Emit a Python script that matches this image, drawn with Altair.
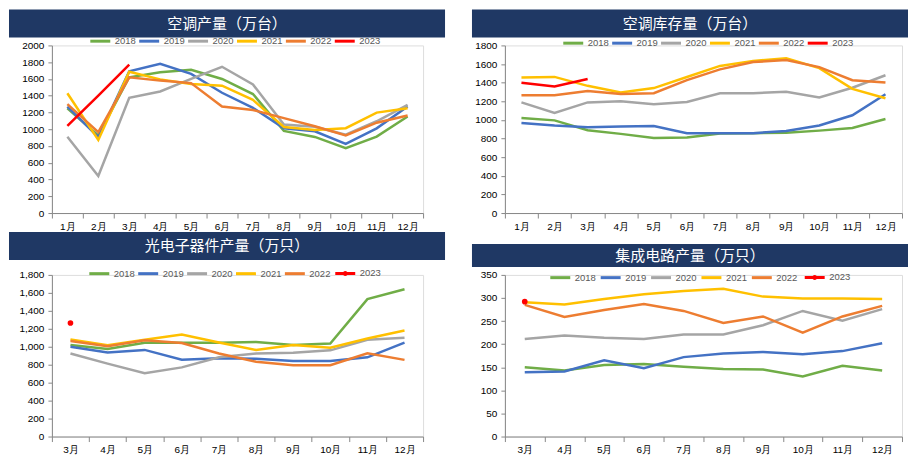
import altair as alt
import pandas as pd

# ---------------- data ----------------
years = ["2018", "2019", "2020", "2021", "2022", "2023"]
colors = ["#70AD47", "#4472C4", "#A5A5A5", "#FFC000", "#ED7D31", "#FF0000"]

months12 = ["1月", "2月", "3月", "4月", "5月", "6月", "7月", "8月", "9月", "10月", "11月", "12月"]
months10 = ["3月", "4月", "5月", "6月", "7月", "8月", "9月", "10月", "11月", "12月"]

# 空调产量（万台）
ac_prod_2018 = [1250, 925, 1620, 1680, 1710, 1600, 1420, 980, 908, 773, 912, 1152]
ac_prod_2019 = [1270, 905, 1690, 1780, 1660, 1435, 1255, 1010, 975, 824, 1010, 1270]
ac_prod_2020 = [910, 442, 1375, 1450, 1600, 1745, 1535, 1055, 1030, 935, 1095, 1290]
ac_prod_2021 = [1430, 872, 1685, 1595, 1540, 1520, 1350, 1027, 990, 1012, 1198, 1250]
ac_prod_2022 = [1300, 966, 1620, 1580, 1550, 1270, 1230, 1132, 1035, 925, 1078, 1163]
ac_prod_2023 = [1040, 1402, 1772]

# 空调库存量（万台）
ac_inv_2018 = [1020, 995, 890, 850, 805, 810, 855, 857, 862, 885, 914, 1010]
ac_inv_2019 = [968, 940, 920, 928, 935, 858, 858, 858, 880, 940, 1050, 1276]
ac_inv_2020 = [1188, 1075, 1188, 1200, 1168, 1192, 1287, 1287, 1302, 1240, 1345, 1480]
ac_inv_2021 = [1455, 1462, 1366, 1295, 1342, 1461, 1580, 1634, 1662, 1556, 1333, 1232]
ac_inv_2022 = [1264, 1264, 1310, 1279, 1286, 1428, 1543, 1621, 1642, 1567, 1427, 1402]
ac_inv_2023 = [1400, 1360, 1440]

# 光电子器件产量（万只）
opto_2018 = [1020, 975, 1045, 1045, 1045, 1052, 1020, 1035, 1530, 1640]
opto_2019 = [1000, 935, 965, 855, 872, 865, 840, 840, 882, 1045]
opto_2020 = [925, 812, 705, 770, 882, 925, 932, 960, 1077, 1101]
opto_2021 = [1082, 1017, 1077, 1135, 1048, 964, 1020, 988, 1091, 1180]
opto_2022 = [1065, 1006, 1073, 1041, 925, 833, 794, 794, 928, 854]
opto_2023 = [1265]

# 集成电路产量（万只）
ic_2018 = [150, 143, 155, 157, 151, 146, 145, 130, 153, 143]
ic_2019 = [139, 141, 165, 148, 172, 180, 183, 178, 185, 202]
ic_2020 = [211, 219, 214, 211, 221, 221, 241, 272, 251, 276]
ic_2021 = [291, 286, 298, 308, 315, 320, 303, 299, 299, 298]
ic_2022 = [285, 259, 274, 287, 272, 246, 260, 225, 260, 283]
ic_2023 = [292]

titles = ["空调产量（万台）", "空调库存量（万台）", "光电子器件产量（万只）", "集成电路产量（万只）"]

NAVY = "#1F3864"
AXIS_GRAY = "#595959"
FONT = "Liberation Sans, Noto Sans CJK SC, sans-serif"
CJK = "Noto Sans CJK SC, sans-serif"
LINE_DOT = "M-1,0H1M0.1,0A0.1,0.1,0,1,1,-0.1,0A0.1,0.1,0,1,1,0.1,0"


def long_df(months, series):
    rows = []
    for yr, vals in zip(years, series):
        for m, v in zip(months, vals):
            rows.append({"month": m, "year": yr, "value": v})
    return pd.DataFrame(rows)


def panel(months, series, title, ymax, ystep, yfmt, w, h, rect, leg, colpad, pitch, dot2023):
    df = long_df(months, series)
    rx0, rx1, ry0, ry1 = rect
    tdf = pd.DataFrame({"t": [title]})
    bar = alt.Chart(tdf).mark_rect(color=NAVY).encode(
        x=alt.value(rx0), x2=alt.value(rx1), y=alt.value(ry0), y2=alt.value(ry1)
    )
    txt = alt.Chart(tdf).mark_text(color="white", fontSize=15, font=CJK).encode(
        x=alt.value((rx0 + rx1) / 2), y=alt.value((ry0 + ry1) / 2 + 0.5), text="t:N"
    )

    common_leg = dict(
        title=None, orient="none", legendY=leg[1],
        direction="horizontal", symbolSize=400,
        symbolStrokeWidth=3, labelFontSize=9.5, labelColor=AXIS_GRAY,
        labelFont=FONT, labelOffset=3, columnPadding=colpad, padding=0,
    )
    line_years = years[:5] if dot2023 else years
    line_colors = colors[:5] if dot2023 else colors
    ldf = df[df["year"].isin(line_years)]

    color = alt.Color(
        "year:N",
        scale=alt.Scale(domain=line_years, range=line_colors),
        legend=alt.Legend(legendX=leg[0], symbolType="stroke", **common_leg),
    )
    x = alt.X(
        "month:N", sort=months, bandPosition=0.5,
        scale=alt.Scale(type="band", domain=months, paddingInner=0, paddingOuter=0),
        axis=alt.Axis(title=None, labelAngle=0, tickBand="extent", tickSize=5,
                      labelPadding=3, grid=False),
    )
    y = alt.Y(
        "value:Q",
        scale=alt.Scale(domain=[0, ymax], nice=False, zero=True),
        axis=alt.Axis(title=None, values=list(range(0, ymax + 1, ystep)), format=yfmt,
                      tickSize=4, labelPadding=4, grid=False, labelOverlap=False),
    )
    lines = alt.Chart(ldf).mark_line(strokeWidth=2.5).encode(x=x, y=y, color=color)
    layers = [bar, txt, lines]
    if dot2023:
        pdf = df[df["year"] == "2023"]
        pts = alt.Chart(pdf).mark_point(filled=True, size=32, opacity=1, strokeWidth=0).encode(
            x=x,
            y=y,
            fill=alt.Fill(
                "year:N",
                scale=alt.Scale(domain=["2023"], range=["#FF0000"]),
                legend=alt.Legend(legendX=leg[0] + 5 * pitch, symbolType=LINE_DOT,
                                  symbolFillColor="#FF0000", symbolStrokeColor="#FF0000",
                                  **common_leg),
            ),
        )
        layers.append(pts)
    return alt.layer(*layers).properties(width=w, height=h)


p1 = panel(months12, [ac_prod_2018, ac_prod_2019, ac_prod_2020, ac_prod_2021, ac_prod_2022, ac_prod_2023],
           titles[0], 2000, 200, "d", 372, 168, (-43, 394, -36, -8), (37, -16), -4, 49.3, False)
p2 = panel(months12, [ac_inv_2018, ac_inv_2019, ac_inv_2020, ac_inv_2021, ac_inv_2022, ac_inv_2023],
           titles[1], 1800, 200, "d", 398, 168, (-33, 404, -36, -8), (57, -14), -4, 49.3, False)
p3 = panel(months10, [opto_2018, opto_2019, opto_2020, opto_2021, opto_2022, opto_2023],
           titles[2], 1800, 200, ",.0f", 372, 162, (-43, 394, -43, -15), (36, -13), -4, 49.3, True)
p4 = panel(months10, [ic_2018, ic_2019, ic_2020, ic_2021, ic_2022, ic_2023],
           titles[3], 350, 50, "d", 398, 162, (-33, 404, -31, -8), (44, -9), -2.5, 51, True)

chart = alt.concat(
    p1, p2, p3, p4, columns=2,
    spacing={"row": 62, "column": 82}, bounds="flush", align="each",
).resolve_scale(
    x="independent", y="independent", color="independent", fill="independent"
).resolve_legend(
    color="independent", fill="independent"
).resolve_axis(
    x="independent", y="independent"
).properties(padding=0).configure_view(strokeWidth=0).configure_axis(
    domainColor=AXIS_GRAY, tickColor=AXIS_GRAY, labelColor=AXIS_GRAY,
    labelFont=FONT, labelFontSize=9.5, domainWidth=1, tickWidth=1,
).configure(background="white")

chart.save("out.html", embed_options={"renderer": "svg", "actions": False})
